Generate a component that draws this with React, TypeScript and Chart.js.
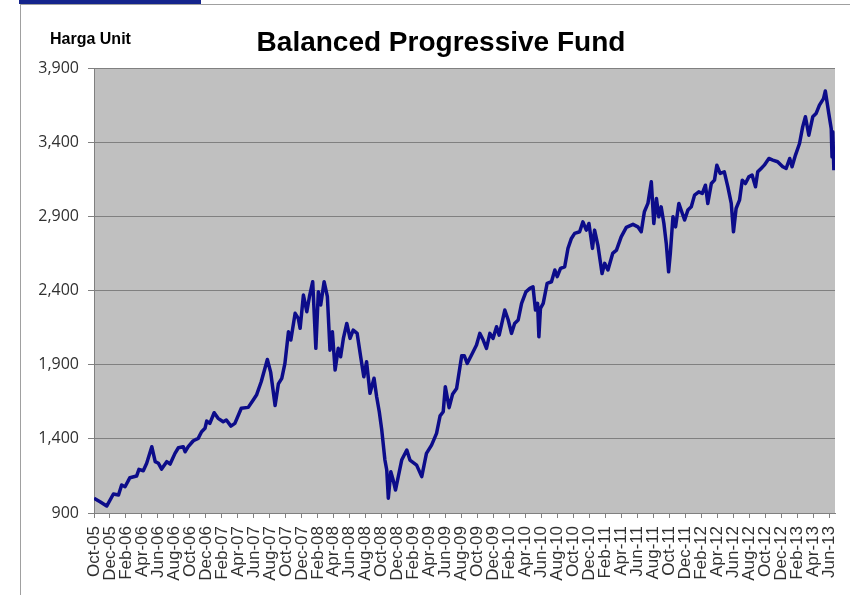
import React, { useEffect, useRef } from 'react';
import { Chart, registerables } from 'chart.js';

Chart.register(...registerables);

const chartTitle = 'Balanced Progressive Fund';
const unitLabel = 'Harga Unit';

const dates = [
  '2005-10-01','2005-10-24','2005-11-19','2005-12-14','2006-01-03','2006-01-15','2006-01-28','2006-02-16','2006-03-11','2006-03-20',
  '2006-04-06','2006-04-19','2006-05-08','2006-05-21','2006-06-03','2006-06-15','2006-07-04','2006-07-17','2006-08-05','2006-08-18',
  '2006-09-06','2006-09-13','2006-09-25','2006-10-14','2006-11-02','2006-11-15','2006-11-28','2006-12-04','2006-12-16','2007-01-02',
  '2007-01-17','2007-02-06','2007-02-18','2007-03-05','2007-03-20','2007-04-14','2007-05-10','2007-05-29','2007-06-11','2007-06-29',
  '2007-07-22','2007-08-04','2007-08-21','2007-09-03','2007-09-16','2007-09-28','2007-10-11','2007-10-20','2007-11-06','2007-11-18',
  '2007-11-25','2007-12-07','2007-12-20','2007-12-30','2008-01-12','2008-01-24','2008-02-03','2008-02-12','2008-02-25','2008-03-07',
  '2008-03-17','2008-03-26','2008-04-06','2008-04-18','2008-04-27','2008-05-07','2008-05-20','2008-06-02','2008-06-14','2008-06-29',
  '2008-07-12','2008-07-24','2008-08-04','2008-08-17','2008-09-02','2008-09-12','2008-09-22','2008-10-01','2008-10-13','2008-10-20',
  '2008-10-26','2008-11-05','2008-11-14','2008-11-23','2008-12-03','2008-12-16','2009-01-05','2009-01-17','2009-02-12','2009-03-01',
  '2009-03-19','2009-04-08','2009-04-27','2009-05-10','2009-05-22','2009-05-30','2009-06-14','2009-06-27','2009-07-12','2009-08-01',
  '2009-08-11','2009-08-22','2009-09-08','2009-09-27','2009-10-09','2009-10-22','2009-11-04','2009-11-17','2009-11-29','2009-12-12',
  '2009-12-22','2010-01-13','2010-01-26','2010-02-08','2010-02-20','2010-03-03','2010-03-16','2010-04-02','2010-04-17','2010-04-29',
  '2010-05-08','2010-05-16','2010-05-21','2010-05-27','2010-06-07','2010-06-22','2010-07-08','2010-07-21','2010-07-30','2010-08-12',
  '2010-08-28','2010-09-10','2010-09-23','2010-10-05','2010-10-24','2010-11-06','2010-11-19','2010-11-29','2010-12-12','2010-12-20',
  '2011-01-02','2011-01-18','2011-01-28','2011-02-10','2011-02-28','2011-03-12','2011-03-30','2011-04-19','2011-05-14','2011-06-02',
  '2011-06-15','2011-06-27','2011-07-10','2011-07-23','2011-08-02','2011-08-12','2011-08-21','2011-08-30','2011-09-10','2011-09-19',
  '2011-09-28','2011-10-04','2011-10-14','2011-10-24','2011-11-06','2011-11-17','2011-11-28','2011-12-10','2011-12-23','2012-01-05',
  '2012-01-21','2012-02-04','2012-02-16','2012-02-25','2012-03-08','2012-03-20','2012-03-29','2012-04-11','2012-04-27','2012-05-10',
  '2012-05-23','2012-06-01','2012-06-11','2012-06-24','2012-07-04','2012-07-16','2012-07-29','2012-08-11','2012-08-24','2012-09-02',
  '2012-09-15','2012-09-27','2012-10-14','2012-10-29','2012-11-17','2012-12-06','2012-12-19','2013-01-02','2013-01-11','2013-01-24',
  '2013-02-09','2013-02-21','2013-03-01','2013-03-14','2013-03-29','2013-04-11','2013-04-24','2013-05-09','2013-05-16','2013-05-29',
  '2013-06-08','2013-06-11','2013-06-14','2013-06-18',
];

const unitPrices = [
  1000, 976, 947, 1028, 1021, 1089, 1077, 1138, 1149, 1194,
  1185, 1235, 1347, 1246, 1235, 1196, 1246, 1230, 1302, 1340,
  1347, 1313, 1347, 1387, 1403, 1448, 1471, 1520, 1504, 1576,
  1538, 1515, 1527, 1486, 1504, 1606, 1612, 1662, 1695, 1785,
  1935, 1850, 1625, 1770, 1808, 1909, 2122, 2066, 2246, 2212,
  2145, 2369, 2257, 2358, 2459, 2010, 2391, 2302, 2459, 2358,
  1998, 2122, 1864, 2010, 1953, 2077, 2178, 2077, 2133, 2111,
  1953, 1818, 1920, 1707, 1808, 1684, 1583, 1459, 1257, 1190,
  1000, 1178, 1122, 1055, 1145, 1257, 1325, 1257, 1223, 1145,
  1302, 1358, 1437, 1555, 1583, 1751, 1610, 1700, 1740, 1960,
  1960, 1909, 1965, 2032, 2111, 2066, 2010, 2111, 2077, 2156,
  2099, 2268, 2201, 2111, 2178, 2201, 2313, 2391, 2414, 2425,
  2268, 2313, 2088, 2279, 2313, 2448, 2459, 2538, 2493, 2549,
  2560, 2684, 2751, 2785, 2796, 2863, 2807, 2852, 2684, 2807,
  2706, 2515, 2583, 2538, 2650, 2672, 2762, 2825, 2846, 2829,
  2796, 2931, 2987, 3133, 2852, 3021, 2897, 2964, 2852, 2717,
  2526, 2650, 2897, 2829, 2987, 2931, 2875, 2942, 2964, 3043,
  3065, 3054, 3110, 2987, 3121, 3144, 3245, 3189, 3200, 3099,
  2987, 2796, 2953, 3009, 3144, 3121, 3166, 3178, 3099, 3200,
  3223, 3245, 3290, 3279, 3268, 3234, 3223, 3290, 3234, 3313,
  3391, 3503, 3571, 3447, 3571, 3593, 3650, 3694, 3745, 3595,
  3490, 3300, 3470, 3211,
];

const xTickLabels = [
  'Oct-05','Dec-05','Feb-06','Apr-06','Jun-06','Aug-06','Oct-06','Dec-06',
  'Feb-07','Apr-07','Jun-07','Aug-07','Oct-07','Dec-07','Feb-08','Apr-08',
  'Jun-08','Aug-08','Oct-08','Dec-08','Feb-09','Apr-09','Jun-09','Aug-09',
  'Oct-09','Dec-09','Feb-10','Apr-10','Jun-10','Aug-10','Oct-10','Dec-10',
  'Feb-11','Apr-11','Jun-11','Aug-11','Oct-11','Dec-11','Feb-12','Apr-12',
  'Jun-12','Aug-12','Oct-12','Dec-12','Feb-13','Apr-13','Jun-13',
];

const yTickValues = [900, 1400, 1900, 2400, 2900, 3400, 3900];

// months elapsed since 1 Oct 2005
const monthOffset = (d: string) => {
  const [y, m, day] = d.split('-').map(Number);
  return (y - 2005) * 12 + (m - 10) + (day - 1) / 30.5;
};

const plotBg = {
  id: 'plotBg',
  beforeDraw(chart: any) {
    const { ctx, chartArea } = chart;
    ctx.save();
    ctx.fillStyle = '#c0c0c0';
    ctx.fillRect(chartArea.left, chartArea.top, chartArea.right - chartArea.left, chartArea.bottom - chartArea.top);
    ctx.restore();
  },
};

export default function App() {
  const canvasRef = useRef<HTMLCanvasElement | null>(null);

  useEffect(() => {
    if (!canvasRef.current) return;
    const tickFont = '"Liberation Sans", Arial, sans-serif';
    const chart = new Chart(canvasRef.current, {
      type: 'line',
      data: {
        datasets: [
          {
            label: chartTitle,
            data: dates.map((d, i) => ({ x: monthOffset(d), y: unitPrices[i] })),
            borderColor: '#0c0c8a',
            borderWidth: 3.5,
            pointRadius: 0,
            tension: 0,
            borderJoinStyle: 'round',
            fill: false,
          },
        ],
      },
      options: {
        responsive: false,
        animation: false,
        devicePixelRatio: 1,
        layout: { padding: { left: 20, right: 15, top: 68, bottom: 0 } },
        plugins: {
          legend: { display: false },
          tooltip: { enabled: false },
          title: { display: false },
        },
        scales: {
          x: {
            type: 'linear',
            min: 0,
            max: 92.7,
            afterBuildTicks: (s: any) => {
              s.ticks = xTickLabels.map((_, i) => ({ value: i * 2 }));
            },
            afterFit: (s: any) => {
              s.height = 82;
              s.paddingLeft = 0;
              s.paddingRight = 0;
            },
            ticks: {
              autoSkip: false,
              minRotation: 90,
              maxRotation: 90,
              padding: 8,
              color: '#303030',
              font: { family: tickFont, size: 17 },
              callback: (v: any) => xTickLabels[Math.round(Number(v) / 2)] ?? '',
            },
            grid: { drawOnChartArea: false, drawTicks: true, tickLength: 5, color: '#808080' },
            border: { color: '#808080' },
          },
          y: {
            min: 900,
            max: 3900,
            afterBuildTicks: (s: any) => {
              s.ticks = yTickValues.map((v) => ({ value: v }));
            },
            afterFit: (s: any) => {
              s.width = 74;
            },
            ticks: {
              padding: 9,
              color: '#303030',
              font: { family: '"Open Sans", "Liberation Sans", sans-serif', size: 16 },
              callback: (v: any) => Number(v).toLocaleString('en-US'),
            },
            grid: { color: '#808080', tickLength: 6 },
            border: { color: '#808080' },
          },
        },
      },
      plugins: [plotBg],
    } as any);
    return () => chart.destroy();
  }, []);

  return (
    <div style={{ position: 'absolute', left: 0, top: 0, width: 850, height: 595, background: '#fff', overflow: 'hidden' }}>
      <canvas ref={canvasRef} width={850} height={595} style={{ position: 'absolute', left: 0, top: 0 }} />
      <div style={{ position: 'absolute', left: 20, top: 4, width: 840, height: 600, borderLeft: '1px solid #a0a0a0', borderTop: '1px solid #a0a0a0' }} />
      <div style={{ position: 'absolute', left: 19, top: 0, width: 182, height: 4, background: '#14248c' }} />
      <div
        style={{
          position: 'absolute',
          left: 50,
          top: 31,
          fontFamily: '"Liberation Sans", Arial, sans-serif',
          fontWeight: 'bold',
          fontSize: 16,
          lineHeight: '16px',
          color: '#000',
          whiteSpace: 'nowrap',
        }}
      >
        {unitLabel}
      </div>
      <div
        style={{
          position: 'absolute',
          left: 241,
          top: 28,
          width: 400,
          textAlign: 'center',
          fontFamily: '"Liberation Sans", Arial, sans-serif',
          fontWeight: 'bold',
          fontSize: 28,
          lineHeight: '28px',
          color: '#000',
          whiteSpace: 'nowrap',
        }}
      >
        {chartTitle}
      </div>
    </div>
  );
}
